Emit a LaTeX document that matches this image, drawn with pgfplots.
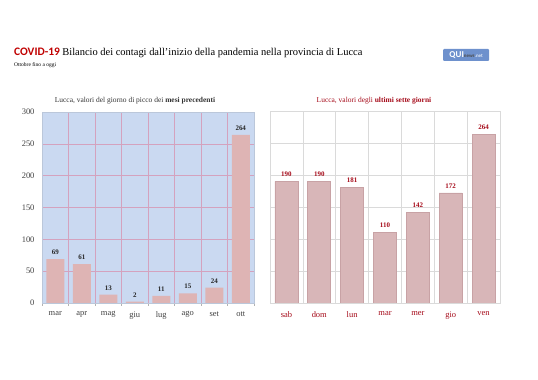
\documentclass[border=0pt]{standalone}
\usepackage{pgfplots}
\pgfplotsset{compat=1.18}
\usepackage{fontspec}
\setmainfont{Liberation Serif}
\newfontfamily\calib{Carlito}
\definecolor{titlered}{RGB}{192,0,0}
\definecolor{darkred}{RGB}{165,10,25}
\definecolor{bgblue}{RGB}{202,217,241}
\definecolor{pinkgrid}{RGB}{212,162,190}
\definecolor{barpink}{RGB}{222,180,180}
\definecolor{barpinkR}{RGB}{216,182,184}
\definecolor{barpinkRd}{RGB}{200,162,165}
\definecolor{lgrid}{RGB}{218,218,218}
\definecolor{logoblue}{RGB}{110,145,205}
\begin{document}
\begin{tikzpicture}
\path (0,0) rectangle (538bp,380bp);
% title
\node[anchor=base west, inner sep=0] at (14bp,324bp) {{\calib\bfseries\fontsize{11.5}{13}\selectfont\color{titlered}COVID-19} {\fontsize{10.5}{12}\selectfont Bilancio dei contagi dall'inizio della pandemia nella provincia di Lucca}};
\node[anchor=base west, inner sep=0] at (14bp,313bp) {\fontsize{5.5}{6}\selectfont Ottobre fino a oggi};
% logo
\node[fill=logoblue, rounded corners=1bp, inner sep=1bp, minimum width=46bp, minimum height=12bp, anchor=west] at (443bp,325bp) {\calib\bfseries\color{white}{\fontsize{9}{10}\selectfont QUI}{\fontsize{5}{6}\selectfont\color{black!70} news\color{white!80!logoblue}.net}};
% panel subtitles
\node[anchor=base, inner sep=0] at (135bp,277bp) {\fontsize{7.5}{9}\selectfont\color{black!80}Lucca, valori del giorno di picco dei \textbf{mesi precedenti}};
\node[anchor=base, inner sep=0] at (374bp,277bp) {\fontsize{7.5}{9}\selectfont\color{darkred}Lucca, valori degli \textbf{ultimi sette giorni}};
% left axis
\begin{axis}[at={(42bp,77bp)}, anchor=south west, scale only axis,
  width=212bp, height=191bp,
  xmin=-0.5, xmax=7.5, ymin=0, ymax=300,
  ytick={0,50,...,300}, xtick={0,...,7},
  xticklabels={mar,apr,mag,giu,lug,ago,set,ott},
  minor xtick={-0.5,0.5,...,7.5},
  xminorgrids, ymajorgrids,
  every axis grid/.style={draw=pinkgrid, line width=0.6pt},
  major grid style={draw=pinkgrid, line width=0.6pt},
  minor grid style={draw=pinkgrid, line width=0.6pt},
  axis background/.style={fill=bgblue},
  axis line style={draw=bgblue!80!gray},
  major tick length=0pt, minor tick length=3bp,
  tick align=outside, xtick pos=bottom, ytick pos=left,
  minor tick style={draw=gray!60},
  ticklabel style={font=\fontsize{8.5}{10}\selectfont, text=black!75},
  xticklabel style={yshift=-5bp},
  yticklabel style={xshift=-4bp},
  /pgf/number format/assume math mode=true,
  ybar, bar width=18bp,
  nodes near coords,
  every node near coord/.append style={font=\bfseries\fontsize{7}{8}\selectfont, text=black!85, yshift=1bp},
]
\addplot[fill=barpink, draw=none] coordinates {(0,69) (1,61) (2,13) (3,2) (4,11) (5,15) (6,24) (7,264)};
\end{axis}
% right axis
\begin{axis}[at={(270bp,77bp)}, anchor=south west, scale only axis,
  width=230bp, height=192bp,
  xmin=-0.5, xmax=6.5, ymin=0, ymax=300,
  ytick={0,50,...,300}, yticklabels={},
  xtick={0,...,6},
  xticklabels={sab,dom,lun,mar,mer,gio,ven},
  minor xtick={-0.5,0.5,...,6.5},
  xminorgrids, ymajorgrids,
  major grid style={lgrid, line width=0.6pt},
  minor grid style={lgrid, line width=0.6pt},
  axis line style={draw=lgrid},
  major tick length=0pt, minor tick length=0pt,
  ticklabel style={font=\fontsize{8.5}{10}\selectfont, text=darkred},
  xticklabel style={yshift=-5bp},
  /pgf/number format/assume math mode=true,
  ybar, bar width=23bp,
  nodes near coords,
  every node near coord/.append style={font=\bfseries\fontsize{7}{8}\selectfont, text=darkred, yshift=1bp},
]
\addplot[fill=barpinkR, draw=barpinkRd, line width=0.6pt] coordinates {(0,190) (1,190) (2,181) (3,110) (4,142) (5,172) (6,264)};
\end{axis}
\end{tikzpicture}
\end{document}
